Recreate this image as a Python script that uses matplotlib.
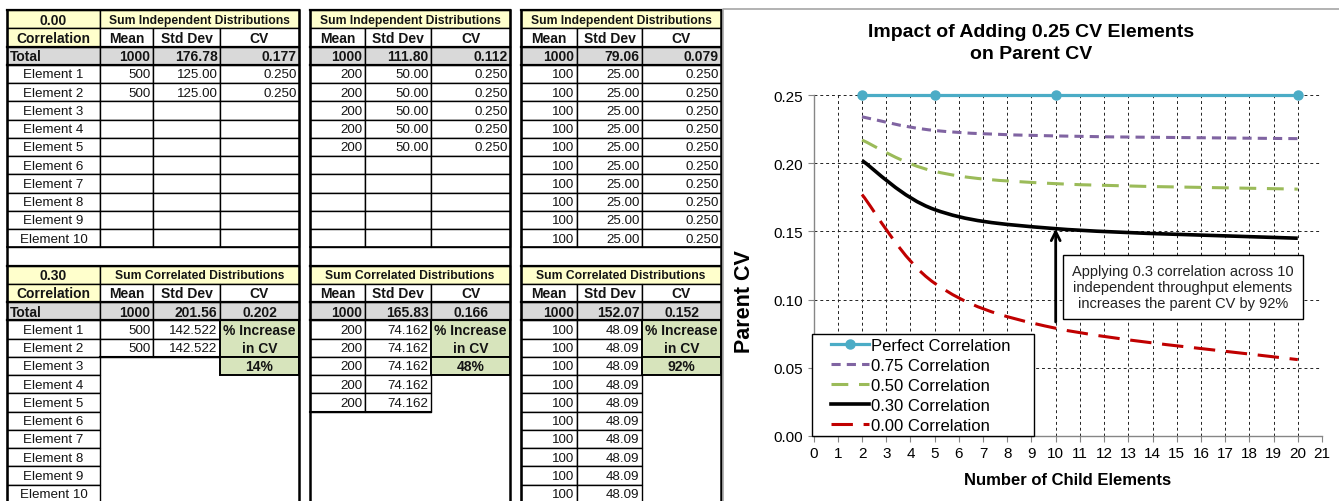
import matplotlib
matplotlib.use("Agg")
import matplotlib.pyplot as plt
from matplotlib.patches import Rectangle, PathPatch
from matplotlib.path import Path
from matplotlib.lines import Line2D
from matplotlib.ticker import FormatStrFormatter

plt.rcParams['font.family'] = ['Liberation Sans', 'DejaVu Sans']

# ---------------- table data ----------------
corr_labels = ["0.00", "0.30"]
section_titles = ["Sum Independent Distributions", "Sum Correlated Distributions"]
col_headers = ["Mean", "Std Dev", "CV"]
element_labels = ["Element 1", "Element 2", "Element 3", "Element 4", "Element 5",
                  "Element 6", "Element 7", "Element 8", "Element 9", "Element 10"]
n_children = [2, 5, 10]
total_means = ["1000", "1000", "1000"]
indep_total_std = ["176.78", "111.80", "79.06"]
indep_total_cv = ["0.177", "0.112", "0.079"]
elem_means = ["500", "200", "100"]
indep_elem_std = ["125.00", "50.00", "25.00"]
indep_elem_cv = ["0.250", "0.250", "0.250"]
corr_total_std = ["201.56", "165.83", "152.07"]
corr_total_cv = ["0.202", "0.166", "0.152"]
corr_elem_std = ["142.522", "74.162", "48.09"]
cv_increase = ["14%", "48%", "92%"]

# ---------------- chart data ----------------
n_elements = [2, 5, 10, 20]
cv_perfect = [0.25, 0.25, 0.25, 0.25]
cv_075 = [0.234, 0.224, 0.220, 0.218]
cv_050 = [0.217, 0.194, 0.185, 0.181]
cv_030 = [0.202, 0.166, 0.152, 0.145]
cv_000 = [0.177, 0.112, 0.079, 0.056]
series_labels = ["Perfect Correlation", "0.75 Correlation", "0.50 Correlation",
                 "0.30 Correlation", "0.00 Correlation"]
annot_text = ("Applying 0.3 correlation across 10\n"
              "independent throughput elements\n"
              "increases the parent CV by 92%")

W, H = 1339, 502
fig = plt.figure(figsize=(W / 100, H / 100), dpi=100)
fig.patch.set_facecolor('white')

tab = fig.add_axes([0, 0, 1, 1])
tab.set_xlim(0, W)
tab.set_ylim(H, 0)
tab.axis('off')

ROW_H = 18.25
TOP = 11.0
YELLOW = '#FFFFCC'
GRAY = '#D9D9D9'
GREEN = '#D7E4BC'
TXT = '#141414'


def ry(i):
    return TOP + i * ROW_H


def cell(x0, x1, r0, r1, fill='none', edge=True, lw=1.0):
    tab.add_patch(Rectangle((x0, ry(r0)), x1 - x0, ry(r1) - ry(r0),
                            facecolor=fill, edgecolor='black' if edge else 'none',
                            lw=lw, zorder=1 if fill != 'none' else 2))


def txt(x0, x1, r0, r1, s, align='center', bold=False, size=9.6):
    y = (ry(r0) + ry(r1)) / 2 + 0.5
    if align == 'center':
        x, ha = (x0 + x1) / 2, 'center'
    elif align == 'right':
        x, ha = x1 - 2.5, 'right'
    else:
        x, ha = x0 + 3, 'left'
    tab.text(x, y, s, ha=ha, va='center', fontsize=size,
             fontweight='bold' if bold else 'normal', color=TXT, zorder=3)


block_cols = [[100, 153, 220, 299], [310, 365, 431, 510], [521, 577, 642, 721]]
label_col = [7, 100]

for s in range(2):
    base = 0 if s == 0 else 14
    lx0, lx1 = label_col
    cell(lx0, lx1, base, base + 1, YELLOW)
    txt(lx0, lx1, base, base + 1, corr_labels[s], bold=True, size=10)
    cell(lx0, lx1, base + 1, base + 2, YELLOW)
    txt(lx0, lx1, base + 1, base + 2, "Correlation", bold=True, size=10)
    cell(lx0, lx1, base + 2, base + 3, GRAY)
    txt(lx0, lx1, base + 2, base + 3, "Total", align='left', bold=True, size=10)
    for i, lab in enumerate(element_labels):
        cell(lx0, lx1, base + 3 + i, base + 4 + i, 'white')
        txt(lx0, lx1, base + 3 + i, base + 4 + i, lab, size=9.6)

    for b, cols in enumerate(block_cols):
        n = n_children[b]
        cell(cols[0], cols[-1], base, base + 1, YELLOW)
        txt(cols[0], cols[-1], base, base + 1, section_titles[s], bold=True, size=8.7)
        for c in range(3):
            cell(cols[c], cols[c + 1], base + 1, base + 2, 'white')
            txt(cols[c], cols[c + 1], base + 1, base + 2, col_headers[c], bold=True, size=10)
            cell(cols[c], cols[c + 1], base + 2, base + 3, GRAY)
        if s == 0:
            tvals = [total_means[b], indep_total_std[b], indep_total_cv[b]]
            aligns = ['right', 'right', 'right']
        else:
            tvals = [total_means[b], corr_total_std[b], corr_total_cv[b]]
            aligns = ['right', 'right', 'center']
        for c in range(3):
            txt(cols[c], cols[c + 1], base + 2, base + 3, tvals[c], align=aligns[c],
                bold=True, size=10)
        for i in range(10):
            r = base + 3 + i
            if s == 0:
                for c in range(3):
                    cell(cols[c], cols[c + 1], r, r + 1, 'white')
                if i < n:
                    txt(cols[0], cols[1], r, r + 1, elem_means[b], align='right', size=9.6)
                    txt(cols[1], cols[2], r, r + 1, indep_elem_std[b], align='right', size=9.6)
                    txt(cols[2], cols[3], r, r + 1, indep_elem_cv[b], align='right', size=9.6)
            else:
                if i < n:
                    for c in range(2):
                        cell(cols[c], cols[c + 1], r, r + 1, 'white')
                    txt(cols[0], cols[1], r, r + 1, elem_means[b], align='right', size=9.6)
                    txt(cols[1], cols[2], r, r + 1, corr_elem_std[b], align='right', size=9.6)
        if s == 1:
            cell(cols[2], cols[3], base + 3, base + 5, GREEN, lw=1.4)
            txt(cols[2], cols[3], base + 3, base + 4, "% Increase", bold=True, size=10)
            txt(cols[2], cols[3], base + 4, base + 5, "in CV", bold=True, size=10)
            cell(cols[2], cols[3], base + 5, base + 6, GREEN, lw=1.4)
            txt(cols[2], cols[3], base + 5, base + 6, cv_increase[b], bold=True, size=10)
            tab.plot([cols[0], cols[2]], [ry(base + 3 + n)] * 2, color='black', lw=1.5, zorder=4)
        x_left = label_col[0] if b == 0 else cols[0]
        for rr in (base, base + 2, base + 3):
            tab.plot([x_left, cols[-1]], [ry(rr)] * 2, color='black', lw=1.6, zorder=4)

for b, cols in enumerate(block_cols):
    x_left = label_col[0] if b == 0 else cols[0]
    tab.plot([x_left, cols[-1]], [ry(13)] * 2, color='black', lw=1.2, zorder=4)
    tab.plot([x_left, x_left], [ry(0), H + 5], color='black', lw=1.8, zorder=4)
    tab.plot([cols[-1], cols[-1]], [ry(0), H + 5], color='black', lw=1.8, zorder=4)

# chart area border
tab.plot([723, 723, W + 5], [H + 5, 10, 10], color='#A6A6A6', lw=1.2, zorder=4)

# ---------------- chart ----------------
x0p, x1p, y0p, y1p = 813.6, 1322.0, 437.0, 96.0
axw, axh = x1p - x0p, y0p - y1p
ax = fig.add_axes([x0p / W, 1 - y0p / H, axw / W, axh / H])
ax.set_facecolor('none')
ax.set_xlim(0, 21)
ax.set_ylim(0, 0.25)
ax.set_xticks(range(22))
ax.set_yticks([0, 0.05, 0.10, 0.15, 0.20, 0.25])
ax.yaxis.set_major_formatter(FormatStrFormatter('%.2f'))
ax.tick_params(labelsize=11, length=4, color='#868686', width=0.8)
ax.grid(True, linestyle=(0, (3, 3)), color='#222222', lw=0.7)
for sp in ('top', 'right'):
    ax.spines[sp].set_visible(False)
for sp in ('left', 'bottom'):
    ax.spines[sp].set_color('#868686')
    ax.spines[sp].set_linewidth(1.0)


def smooth_path(xs, ys):
    pts = list(zip(xs, ys))
    verts = [pts[0]]
    codes = [Path.MOVETO]
    for i in range(len(pts) - 1):
        p_prev = pts[i - 1] if i > 0 else pts[i]
        p0, p1 = pts[i], pts[i + 1]
        p_next = pts[i + 2] if i + 2 < len(pts) else pts[i + 1]
        c1 = (p0[0] + (p1[0] - p_prev[0]) / 6, p0[1] + (p1[1] - p_prev[1]) / 6)
        c2 = (p1[0] - (p_next[0] - p0[0]) / 6, p1[1] - (p_next[1] - p0[1]) / 6)
        verts += [c1, c2, p1]
        codes += [Path.CURVE4] * 3
    return Path(verts, codes)


styles = [
    dict(color='#4BACC6', lw=2.3, ls='-'),
    dict(color='#8064A2', lw=2.2, ls=(0, (3, 2))),
    dict(color='#9BBB59', lw=2.2, ls=(0, (5.5, 3.5))),
    dict(color='#000000', lw=2.6, ls='-'),
    dict(color='#C00000', lw=2.2, ls=(0, (7, 3.5))),
]
all_series = [cv_perfect, cv_075, cv_050, cv_030, cv_000]

ax.plot(n_elements, cv_perfect, color=styles[0]['color'], lw=styles[0]['lw'],
        marker='o', ms=6.5, clip_on=False, zorder=5)
for st, ser in zip(styles[1:], all_series[1:]):
    ax.add_patch(PathPatch(smooth_path(n_elements, ser), facecolor='none',
                           edgecolor=st['color'], lw=st['lw'], linestyle=st['ls'],
                           capstyle='butt', zorder=4))

# legend with a hand-placed frame (wider horizontal padding as in Excel)
ax.add_patch(Rectangle(((812 - x0p) / axw, 0), (1034 - 812) / axw, (437 - 335) / axh,
                       transform=ax.transAxes, facecolor='white', edgecolor='black',
                       lw=1.0, zorder=5.5, clip_on=False))
handles = [Line2D([], [], color=styles[0]['color'], lw=styles[0]['lw'], marker='o', ms=6.5)]
for st in styles[1:]:
    handles.append(Line2D([], [], color=st['color'], lw=st['lw'], linestyle=st['ls']))
leg = ax.legend(handles, series_labels, loc='upper left',
                bbox_to_anchor=((831 - x0p) / axw, (437 - 339) / axh),
                borderaxespad=0, fontsize=12, frameon=False, handlelength=2.25,
                handletextpad=0.15, labelspacing=0.3, borderpad=0.0)
leg.set_zorder(6)

ax.annotate('', xy=(n_elements[2], cv_030[2]), xytext=(n_elements[2], 0.0836),
            arrowprops=dict(arrowstyle='->', color='black', lw=2.0, mutation_scale=16,
                            shrinkA=0, shrinkB=0), zorder=6)
ax.text(15.25, 0.1092, annot_text, ha='center', va='center', fontsize=10.5,
        linespacing=1.18, color='#222222', zorder=7,
        bbox=dict(boxstyle='square,pad=0.62', fc='white', ec='black', lw=1.0))

ax.set_xlabel("Number of Child Elements", fontsize=12, fontweight='bold', labelpad=8)
ax.set_ylabel("Parent CV", fontsize=15.5, fontweight='bold')
ax.yaxis.label.set_va('center')
ax.yaxis.set_label_coords((745 - x0p) / axw, (437 - 302) / axh)
fig.text(1031 / W, 1 - 43.5 / H, "Impact of Adding 0.25 CV Elements\non Parent CV",
         ha='center', va='center', fontsize=14, fontweight='bold', linespacing=1.4)

fig.savefig("out.png", dpi=100, facecolor='white')
